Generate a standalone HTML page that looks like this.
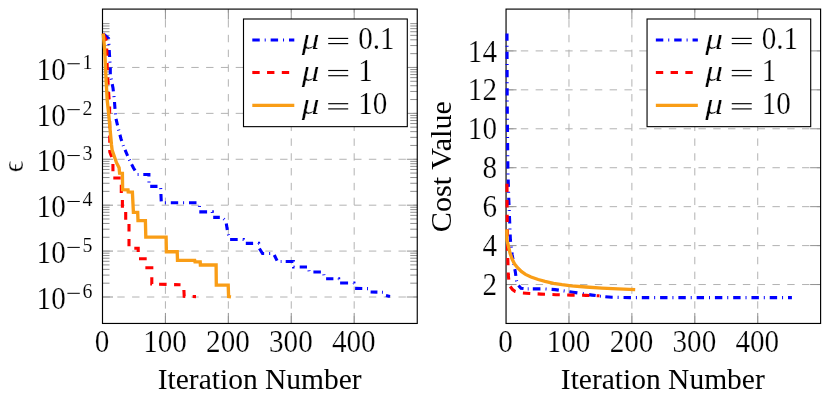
<!DOCTYPE html>
<html><head><meta charset="utf-8"><title>plot</title><style>html,body{margin:0;padding:0;background:#fff;width:830px;height:393px;overflow:hidden}</style></head><body>
<svg width="830" height="393" viewBox="0 0 830 393" style="position:absolute;left:0;top:0;will-change:transform;opacity:0.999" font-family="Liberation Serif, serif" fill="#000">
<defs><clipPath id="c1"><rect x="100.9" y="9.1" width="316.35" height="314.34999999999997"/></clipPath><clipPath id="c2"><rect x="504.45" y="9.1" width="316.15000000000003" height="314.34999999999997"/></clipPath></defs>
<rect width="830" height="393" fill="#fff"/>
<line x1="165.42" y1="323.45" x2="165.42" y2="9.10" stroke="#b0b0b0" stroke-width="0.98" stroke-dasharray="7.4 7.4"/>
<line x1="228.34" y1="323.45" x2="228.34" y2="9.10" stroke="#b0b0b0" stroke-width="0.98" stroke-dasharray="7.4 7.4"/>
<line x1="291.26" y1="323.45" x2="291.26" y2="9.10" stroke="#b0b0b0" stroke-width="0.98" stroke-dasharray="7.4 7.4"/>
<line x1="354.18" y1="323.45" x2="354.18" y2="9.10" stroke="#b0b0b0" stroke-width="0.98" stroke-dasharray="7.4 7.4"/>
<line x1="102.50" y1="67.45" x2="417.25" y2="67.45" stroke="#b0b0b0" stroke-width="0.98" stroke-dasharray="7.4 7.4"/>
<line x1="102.50" y1="113.36" x2="417.25" y2="113.36" stroke="#b0b0b0" stroke-width="0.98" stroke-dasharray="7.4 7.4"/>
<line x1="102.50" y1="159.27" x2="417.25" y2="159.27" stroke="#b0b0b0" stroke-width="0.98" stroke-dasharray="7.4 7.4"/>
<line x1="102.50" y1="205.18" x2="417.25" y2="205.18" stroke="#b0b0b0" stroke-width="0.98" stroke-dasharray="7.4 7.4"/>
<line x1="102.50" y1="251.09" x2="417.25" y2="251.09" stroke="#b0b0b0" stroke-width="0.98" stroke-dasharray="7.4 7.4"/>
<line x1="102.50" y1="297.00" x2="417.25" y2="297.00" stroke="#b0b0b0" stroke-width="0.98" stroke-dasharray="7.4 7.4"/>
<line x1="165.42" y1="323.45" x2="165.42" y2="312.95" stroke="#8e8e8e" stroke-width="0.98" />
<line x1="165.42" y1="9.10" x2="165.42" y2="19.60" stroke="#8e8e8e" stroke-width="0.98" />
<line x1="228.34" y1="323.45" x2="228.34" y2="312.95" stroke="#8e8e8e" stroke-width="0.98" />
<line x1="228.34" y1="9.10" x2="228.34" y2="19.60" stroke="#8e8e8e" stroke-width="0.98" />
<line x1="291.26" y1="323.45" x2="291.26" y2="312.95" stroke="#8e8e8e" stroke-width="0.98" />
<line x1="291.26" y1="9.10" x2="291.26" y2="19.60" stroke="#8e8e8e" stroke-width="0.98" />
<line x1="354.18" y1="323.45" x2="354.18" y2="312.95" stroke="#8e8e8e" stroke-width="0.98" />
<line x1="354.18" y1="9.10" x2="354.18" y2="19.60" stroke="#8e8e8e" stroke-width="0.98" />
<line x1="102.50" y1="67.45" x2="113.00" y2="67.45" stroke="#8e8e8e" stroke-width="0.98" />
<line x1="417.25" y1="67.45" x2="406.75" y2="67.45" stroke="#8e8e8e" stroke-width="0.98" />
<line x1="102.50" y1="113.36" x2="113.00" y2="113.36" stroke="#8e8e8e" stroke-width="0.98" />
<line x1="417.25" y1="113.36" x2="406.75" y2="113.36" stroke="#8e8e8e" stroke-width="0.98" />
<line x1="102.50" y1="159.27" x2="113.00" y2="159.27" stroke="#8e8e8e" stroke-width="0.98" />
<line x1="417.25" y1="159.27" x2="406.75" y2="159.27" stroke="#8e8e8e" stroke-width="0.98" />
<line x1="102.50" y1="205.18" x2="113.00" y2="205.18" stroke="#8e8e8e" stroke-width="0.98" />
<line x1="417.25" y1="205.18" x2="406.75" y2="205.18" stroke="#8e8e8e" stroke-width="0.98" />
<line x1="102.50" y1="251.09" x2="113.00" y2="251.09" stroke="#8e8e8e" stroke-width="0.98" />
<line x1="417.25" y1="251.09" x2="406.75" y2="251.09" stroke="#8e8e8e" stroke-width="0.98" />
<line x1="102.50" y1="297.00" x2="113.00" y2="297.00" stroke="#8e8e8e" stroke-width="0.98" />
<line x1="417.25" y1="297.00" x2="406.75" y2="297.00" stroke="#8e8e8e" stroke-width="0.98" />
<line x1="102.50" y1="53.63" x2="109.50" y2="53.63" stroke="#8e8e8e" stroke-width="0.98" />
<line x1="417.25" y1="53.63" x2="410.25" y2="53.63" stroke="#8e8e8e" stroke-width="0.98" />
<line x1="102.50" y1="45.55" x2="109.50" y2="45.55" stroke="#8e8e8e" stroke-width="0.98" />
<line x1="417.25" y1="45.55" x2="410.25" y2="45.55" stroke="#8e8e8e" stroke-width="0.98" />
<line x1="102.50" y1="39.81" x2="109.50" y2="39.81" stroke="#8e8e8e" stroke-width="0.98" />
<line x1="417.25" y1="39.81" x2="410.25" y2="39.81" stroke="#8e8e8e" stroke-width="0.98" />
<line x1="102.50" y1="35.36" x2="109.50" y2="35.36" stroke="#8e8e8e" stroke-width="0.98" />
<line x1="417.25" y1="35.36" x2="410.25" y2="35.36" stroke="#8e8e8e" stroke-width="0.98" />
<line x1="102.50" y1="31.73" x2="109.50" y2="31.73" stroke="#8e8e8e" stroke-width="0.98" />
<line x1="417.25" y1="31.73" x2="410.25" y2="31.73" stroke="#8e8e8e" stroke-width="0.98" />
<line x1="102.50" y1="28.65" x2="109.50" y2="28.65" stroke="#8e8e8e" stroke-width="0.98" />
<line x1="417.25" y1="28.65" x2="410.25" y2="28.65" stroke="#8e8e8e" stroke-width="0.98" />
<line x1="102.50" y1="25.99" x2="109.50" y2="25.99" stroke="#8e8e8e" stroke-width="0.98" />
<line x1="417.25" y1="25.99" x2="410.25" y2="25.99" stroke="#8e8e8e" stroke-width="0.98" />
<line x1="102.50" y1="23.64" x2="109.50" y2="23.64" stroke="#8e8e8e" stroke-width="0.98" />
<line x1="417.25" y1="23.64" x2="410.25" y2="23.64" stroke="#8e8e8e" stroke-width="0.98" />
<line x1="102.50" y1="99.54" x2="109.50" y2="99.54" stroke="#8e8e8e" stroke-width="0.98" />
<line x1="417.25" y1="99.54" x2="410.25" y2="99.54" stroke="#8e8e8e" stroke-width="0.98" />
<line x1="102.50" y1="91.46" x2="109.50" y2="91.46" stroke="#8e8e8e" stroke-width="0.98" />
<line x1="417.25" y1="91.46" x2="410.25" y2="91.46" stroke="#8e8e8e" stroke-width="0.98" />
<line x1="102.50" y1="85.72" x2="109.50" y2="85.72" stroke="#8e8e8e" stroke-width="0.98" />
<line x1="417.25" y1="85.72" x2="410.25" y2="85.72" stroke="#8e8e8e" stroke-width="0.98" />
<line x1="102.50" y1="81.27" x2="109.50" y2="81.27" stroke="#8e8e8e" stroke-width="0.98" />
<line x1="417.25" y1="81.27" x2="410.25" y2="81.27" stroke="#8e8e8e" stroke-width="0.98" />
<line x1="102.50" y1="77.64" x2="109.50" y2="77.64" stroke="#8e8e8e" stroke-width="0.98" />
<line x1="417.25" y1="77.64" x2="410.25" y2="77.64" stroke="#8e8e8e" stroke-width="0.98" />
<line x1="102.50" y1="74.56" x2="109.50" y2="74.56" stroke="#8e8e8e" stroke-width="0.98" />
<line x1="417.25" y1="74.56" x2="410.25" y2="74.56" stroke="#8e8e8e" stroke-width="0.98" />
<line x1="102.50" y1="71.90" x2="109.50" y2="71.90" stroke="#8e8e8e" stroke-width="0.98" />
<line x1="417.25" y1="71.90" x2="410.25" y2="71.90" stroke="#8e8e8e" stroke-width="0.98" />
<line x1="102.50" y1="69.55" x2="109.50" y2="69.55" stroke="#8e8e8e" stroke-width="0.98" />
<line x1="417.25" y1="69.55" x2="410.25" y2="69.55" stroke="#8e8e8e" stroke-width="0.98" />
<line x1="102.50" y1="145.45" x2="109.50" y2="145.45" stroke="#8e8e8e" stroke-width="0.98" />
<line x1="417.25" y1="145.45" x2="410.25" y2="145.45" stroke="#8e8e8e" stroke-width="0.98" />
<line x1="102.50" y1="137.37" x2="109.50" y2="137.37" stroke="#8e8e8e" stroke-width="0.98" />
<line x1="417.25" y1="137.37" x2="410.25" y2="137.37" stroke="#8e8e8e" stroke-width="0.98" />
<line x1="102.50" y1="131.63" x2="109.50" y2="131.63" stroke="#8e8e8e" stroke-width="0.98" />
<line x1="417.25" y1="131.63" x2="410.25" y2="131.63" stroke="#8e8e8e" stroke-width="0.98" />
<line x1="102.50" y1="127.18" x2="109.50" y2="127.18" stroke="#8e8e8e" stroke-width="0.98" />
<line x1="417.25" y1="127.18" x2="410.25" y2="127.18" stroke="#8e8e8e" stroke-width="0.98" />
<line x1="102.50" y1="123.55" x2="109.50" y2="123.55" stroke="#8e8e8e" stroke-width="0.98" />
<line x1="417.25" y1="123.55" x2="410.25" y2="123.55" stroke="#8e8e8e" stroke-width="0.98" />
<line x1="102.50" y1="120.47" x2="109.50" y2="120.47" stroke="#8e8e8e" stroke-width="0.98" />
<line x1="417.25" y1="120.47" x2="410.25" y2="120.47" stroke="#8e8e8e" stroke-width="0.98" />
<line x1="102.50" y1="117.81" x2="109.50" y2="117.81" stroke="#8e8e8e" stroke-width="0.98" />
<line x1="417.25" y1="117.81" x2="410.25" y2="117.81" stroke="#8e8e8e" stroke-width="0.98" />
<line x1="102.50" y1="115.46" x2="109.50" y2="115.46" stroke="#8e8e8e" stroke-width="0.98" />
<line x1="417.25" y1="115.46" x2="410.25" y2="115.46" stroke="#8e8e8e" stroke-width="0.98" />
<line x1="102.50" y1="191.36" x2="109.50" y2="191.36" stroke="#8e8e8e" stroke-width="0.98" />
<line x1="417.25" y1="191.36" x2="410.25" y2="191.36" stroke="#8e8e8e" stroke-width="0.98" />
<line x1="102.50" y1="183.28" x2="109.50" y2="183.28" stroke="#8e8e8e" stroke-width="0.98" />
<line x1="417.25" y1="183.28" x2="410.25" y2="183.28" stroke="#8e8e8e" stroke-width="0.98" />
<line x1="102.50" y1="177.54" x2="109.50" y2="177.54" stroke="#8e8e8e" stroke-width="0.98" />
<line x1="417.25" y1="177.54" x2="410.25" y2="177.54" stroke="#8e8e8e" stroke-width="0.98" />
<line x1="102.50" y1="173.09" x2="109.50" y2="173.09" stroke="#8e8e8e" stroke-width="0.98" />
<line x1="417.25" y1="173.09" x2="410.25" y2="173.09" stroke="#8e8e8e" stroke-width="0.98" />
<line x1="102.50" y1="169.46" x2="109.50" y2="169.46" stroke="#8e8e8e" stroke-width="0.98" />
<line x1="417.25" y1="169.46" x2="410.25" y2="169.46" stroke="#8e8e8e" stroke-width="0.98" />
<line x1="102.50" y1="166.38" x2="109.50" y2="166.38" stroke="#8e8e8e" stroke-width="0.98" />
<line x1="417.25" y1="166.38" x2="410.25" y2="166.38" stroke="#8e8e8e" stroke-width="0.98" />
<line x1="102.50" y1="163.72" x2="109.50" y2="163.72" stroke="#8e8e8e" stroke-width="0.98" />
<line x1="417.25" y1="163.72" x2="410.25" y2="163.72" stroke="#8e8e8e" stroke-width="0.98" />
<line x1="102.50" y1="161.37" x2="109.50" y2="161.37" stroke="#8e8e8e" stroke-width="0.98" />
<line x1="417.25" y1="161.37" x2="410.25" y2="161.37" stroke="#8e8e8e" stroke-width="0.98" />
<line x1="102.50" y1="237.27" x2="109.50" y2="237.27" stroke="#8e8e8e" stroke-width="0.98" />
<line x1="417.25" y1="237.27" x2="410.25" y2="237.27" stroke="#8e8e8e" stroke-width="0.98" />
<line x1="102.50" y1="229.19" x2="109.50" y2="229.19" stroke="#8e8e8e" stroke-width="0.98" />
<line x1="417.25" y1="229.19" x2="410.25" y2="229.19" stroke="#8e8e8e" stroke-width="0.98" />
<line x1="102.50" y1="223.45" x2="109.50" y2="223.45" stroke="#8e8e8e" stroke-width="0.98" />
<line x1="417.25" y1="223.45" x2="410.25" y2="223.45" stroke="#8e8e8e" stroke-width="0.98" />
<line x1="102.50" y1="219.00" x2="109.50" y2="219.00" stroke="#8e8e8e" stroke-width="0.98" />
<line x1="417.25" y1="219.00" x2="410.25" y2="219.00" stroke="#8e8e8e" stroke-width="0.98" />
<line x1="102.50" y1="215.37" x2="109.50" y2="215.37" stroke="#8e8e8e" stroke-width="0.98" />
<line x1="417.25" y1="215.37" x2="410.25" y2="215.37" stroke="#8e8e8e" stroke-width="0.98" />
<line x1="102.50" y1="212.29" x2="109.50" y2="212.29" stroke="#8e8e8e" stroke-width="0.98" />
<line x1="417.25" y1="212.29" x2="410.25" y2="212.29" stroke="#8e8e8e" stroke-width="0.98" />
<line x1="102.50" y1="209.63" x2="109.50" y2="209.63" stroke="#8e8e8e" stroke-width="0.98" />
<line x1="417.25" y1="209.63" x2="410.25" y2="209.63" stroke="#8e8e8e" stroke-width="0.98" />
<line x1="102.50" y1="207.28" x2="109.50" y2="207.28" stroke="#8e8e8e" stroke-width="0.98" />
<line x1="417.25" y1="207.28" x2="410.25" y2="207.28" stroke="#8e8e8e" stroke-width="0.98" />
<line x1="102.50" y1="283.18" x2="109.50" y2="283.18" stroke="#8e8e8e" stroke-width="0.98" />
<line x1="417.25" y1="283.18" x2="410.25" y2="283.18" stroke="#8e8e8e" stroke-width="0.98" />
<line x1="102.50" y1="275.10" x2="109.50" y2="275.10" stroke="#8e8e8e" stroke-width="0.98" />
<line x1="417.25" y1="275.10" x2="410.25" y2="275.10" stroke="#8e8e8e" stroke-width="0.98" />
<line x1="102.50" y1="269.36" x2="109.50" y2="269.36" stroke="#8e8e8e" stroke-width="0.98" />
<line x1="417.25" y1="269.36" x2="410.25" y2="269.36" stroke="#8e8e8e" stroke-width="0.98" />
<line x1="102.50" y1="264.91" x2="109.50" y2="264.91" stroke="#8e8e8e" stroke-width="0.98" />
<line x1="417.25" y1="264.91" x2="410.25" y2="264.91" stroke="#8e8e8e" stroke-width="0.98" />
<line x1="102.50" y1="261.28" x2="109.50" y2="261.28" stroke="#8e8e8e" stroke-width="0.98" />
<line x1="417.25" y1="261.28" x2="410.25" y2="261.28" stroke="#8e8e8e" stroke-width="0.98" />
<line x1="102.50" y1="258.20" x2="109.50" y2="258.20" stroke="#8e8e8e" stroke-width="0.98" />
<line x1="417.25" y1="258.20" x2="410.25" y2="258.20" stroke="#8e8e8e" stroke-width="0.98" />
<line x1="102.50" y1="255.54" x2="109.50" y2="255.54" stroke="#8e8e8e" stroke-width="0.98" />
<line x1="417.25" y1="255.54" x2="410.25" y2="255.54" stroke="#8e8e8e" stroke-width="0.98" />
<line x1="102.50" y1="253.19" x2="109.50" y2="253.19" stroke="#8e8e8e" stroke-width="0.98" />
<line x1="417.25" y1="253.19" x2="410.25" y2="253.19" stroke="#8e8e8e" stroke-width="0.98" />
<line x1="568.97" y1="323.45" x2="568.97" y2="9.10" stroke="#b0b0b0" stroke-width="0.98" stroke-dasharray="7.4 7.4"/>
<line x1="631.89" y1="323.45" x2="631.89" y2="9.10" stroke="#b0b0b0" stroke-width="0.98" stroke-dasharray="7.4 7.4"/>
<line x1="694.81" y1="323.45" x2="694.81" y2="9.10" stroke="#b0b0b0" stroke-width="0.98" stroke-dasharray="7.4 7.4"/>
<line x1="757.73" y1="323.45" x2="757.73" y2="9.10" stroke="#b0b0b0" stroke-width="0.98" stroke-dasharray="7.4 7.4"/>
<line x1="506.05" y1="50.90" x2="820.60" y2="50.90" stroke="#b0b0b0" stroke-width="0.98" stroke-dasharray="7.4 7.4"/>
<line x1="506.05" y1="89.84" x2="820.60" y2="89.84" stroke="#b0b0b0" stroke-width="0.98" stroke-dasharray="7.4 7.4"/>
<line x1="506.05" y1="128.78" x2="820.60" y2="128.78" stroke="#b0b0b0" stroke-width="0.98" stroke-dasharray="7.4 7.4"/>
<line x1="506.05" y1="167.72" x2="820.60" y2="167.72" stroke="#b0b0b0" stroke-width="0.98" stroke-dasharray="7.4 7.4"/>
<line x1="506.05" y1="206.66" x2="820.60" y2="206.66" stroke="#b0b0b0" stroke-width="0.98" stroke-dasharray="7.4 7.4"/>
<line x1="506.05" y1="245.60" x2="820.60" y2="245.60" stroke="#b0b0b0" stroke-width="0.98" stroke-dasharray="7.4 7.4"/>
<line x1="506.05" y1="284.54" x2="820.60" y2="284.54" stroke="#b0b0b0" stroke-width="0.98" stroke-dasharray="7.4 7.4"/>
<line x1="568.97" y1="323.45" x2="568.97" y2="312.95" stroke="#8e8e8e" stroke-width="0.98" />
<line x1="568.97" y1="9.10" x2="568.97" y2="19.60" stroke="#8e8e8e" stroke-width="0.98" />
<line x1="631.89" y1="323.45" x2="631.89" y2="312.95" stroke="#8e8e8e" stroke-width="0.98" />
<line x1="631.89" y1="9.10" x2="631.89" y2="19.60" stroke="#8e8e8e" stroke-width="0.98" />
<line x1="694.81" y1="323.45" x2="694.81" y2="312.95" stroke="#8e8e8e" stroke-width="0.98" />
<line x1="694.81" y1="9.10" x2="694.81" y2="19.60" stroke="#8e8e8e" stroke-width="0.98" />
<line x1="757.73" y1="323.45" x2="757.73" y2="312.95" stroke="#8e8e8e" stroke-width="0.98" />
<line x1="757.73" y1="9.10" x2="757.73" y2="19.60" stroke="#8e8e8e" stroke-width="0.98" />
<line x1="506.05" y1="50.90" x2="516.55" y2="50.90" stroke="#8e8e8e" stroke-width="0.98" />
<line x1="820.60" y1="50.90" x2="810.10" y2="50.90" stroke="#8e8e8e" stroke-width="0.98" />
<line x1="506.05" y1="89.84" x2="516.55" y2="89.84" stroke="#8e8e8e" stroke-width="0.98" />
<line x1="820.60" y1="89.84" x2="810.10" y2="89.84" stroke="#8e8e8e" stroke-width="0.98" />
<line x1="506.05" y1="128.78" x2="516.55" y2="128.78" stroke="#8e8e8e" stroke-width="0.98" />
<line x1="820.60" y1="128.78" x2="810.10" y2="128.78" stroke="#8e8e8e" stroke-width="0.98" />
<line x1="506.05" y1="167.72" x2="516.55" y2="167.72" stroke="#8e8e8e" stroke-width="0.98" />
<line x1="820.60" y1="167.72" x2="810.10" y2="167.72" stroke="#8e8e8e" stroke-width="0.98" />
<line x1="506.05" y1="206.66" x2="516.55" y2="206.66" stroke="#8e8e8e" stroke-width="0.98" />
<line x1="820.60" y1="206.66" x2="810.10" y2="206.66" stroke="#8e8e8e" stroke-width="0.98" />
<line x1="506.05" y1="245.60" x2="516.55" y2="245.60" stroke="#8e8e8e" stroke-width="0.98" />
<line x1="820.60" y1="245.60" x2="810.10" y2="245.60" stroke="#8e8e8e" stroke-width="0.98" />
<line x1="506.05" y1="284.54" x2="516.55" y2="284.54" stroke="#8e8e8e" stroke-width="0.98" />
<line x1="820.60" y1="284.54" x2="810.10" y2="284.54" stroke="#8e8e8e" stroke-width="0.98" />
<rect x="102.5" y="9.1" width="314.75" height="314.35" fill="none" stroke="#000" stroke-width="1.15"/>
<rect x="506.05" y="9.1" width="314.55" height="314.35" fill="none" stroke="#000" stroke-width="1.15"/>
<g fill="none" stroke="#0000ff" stroke-width="3.1" stroke-linejoin="miter" clip-path="url(#c1)">
<path d="M103.10,33.70 L108.60,38.50 L109.23,50.01" stroke-dasharray="7.633 5.089 1.016 5.089"/>
<path d="M109.23,50.01 L109.50,55.00 L110.29,67.30" stroke-dasharray="7.024 4.683 0.935 4.683"/>
<path d="M110.29,67.30 L110.30,67.50 L110.30,75.00 L111.40,80.00 L112.22,84.08" stroke-dasharray="6.883 4.589 0.916 4.589"/>
<path d="M112.22,84.08 L113.00,88.00 L114.00,96.60 L114.50,102.00" stroke-dasharray="7.331 4.888 0.976 4.888"/>
<path d="M114.50,102.00 L115.00,109.00 L115.80,118.00 L116.02,118.91" stroke-dasharray="6.887 4.591 0.916 4.591"/>
<path d="M116.02,118.91 L117.70,126.00 L118.70,130.00 L119.93,134.76" stroke-dasharray="6.621 4.414 0.881 4.414"/>
<path d="M119.93,134.76 L120.90,138.50 L123.60,146.50 L125.08,149.96" stroke-dasharray="6.518 4.345 0.867 4.345"/>
<path d="M125.08,149.96 L126.60,153.50 L130.00,161.00 L131.66,164.32" stroke-dasharray="6.404 4.269 0.852 4.269"/>
<path d="M131.66,164.32 L133.50,168.00 L137.50,174.50 L143.30,174.50" stroke-dasharray="7.114 4.743 0.947 4.743"/>
<path d="M143.30,174.50 L148.90,174.50 L149.00,186.40 L150.20,186.40" stroke-dasharray="7.582 5.055 1.009 5.055"/>
<path d="M150.20,186.40 L160.60,186.40 L160.93,194.02" stroke-dasharray="7.307 4.872 0.972 4.872"/>
<path d="M160.93,194.02 L161.30,202.80 L170.80,202.80" stroke-dasharray="7.416 4.944 0.987 4.944"/>
<path d="M170.80,202.80 L189.00,202.80" stroke-dasharray="7.379 4.919 0.982 4.919"/>
<path d="M189.00,202.80 L198.00,202.80 L199.50,205.50 L199.30,211.90" stroke-dasharray="7.497 4.998 0.998 4.998"/>
<path d="M199.30,211.90 L212.30,211.90 L212.50,217.40 L213.20,217.40" stroke-dasharray="7.786 5.191 1.036 5.191"/>
<path d="M213.20,217.40 L222.00,217.40 L224.40,219.50 L226.30,223.40" stroke-dasharray="6.620 4.413 0.881 4.413"/>
<path d="M226.30,223.40 L227.50,231.40 L228.50,235.00 L230.10,239.50" stroke-dasharray="6.731 4.487 0.896 4.487"/>
<path d="M230.10,239.50 L243.50,239.50 L244.50,243.40 L245.80,243.40" stroke-dasharray="7.593 5.062 1.010 5.062"/>
<path d="M245.80,243.40 L258.70,243.40 L259.40,248.50" stroke-dasharray="7.317 4.878 0.974 4.878"/>
<path d="M259.40,248.50 L262.50,253.50 L273.50,253.50 L274.26,255.02" stroke-dasharray="7.534 5.023 1.003 5.023"/>
<path d="M274.26,255.02 L277.50,261.50 L285.70,261.50" stroke-dasharray="6.262 4.175 0.833 4.175"/>
<path d="M285.70,261.50 L293.40,261.50 L293.60,267.00 L299.70,267.00" stroke-dasharray="7.827 5.218 1.041 5.218"/>
<path d="M299.70,267.00 L308.50,267.00 L309.20,272.00 L313.40,272.00" stroke-dasharray="7.318 4.879 0.974 4.879"/>
<path d="M313.40,272.00 L323.50,272.00 L324.50,278.70 L326.10,278.70" stroke-dasharray="7.490 4.994 0.997 4.994"/>
<path d="M326.10,278.70 L338.70,278.70 L339.00,283.00 L340.10,283.00" stroke-dasharray="7.302 4.868 0.972 4.868"/>
<path d="M340.10,283.00 L354.00,283.00 L354.80,288.40 L355.10,288.40" stroke-dasharray="7.971 5.314 1.061 5.314"/>
<path d="M355.10,288.40 L368.50,288.60 L370.00,292.00 L370.60,292.01" stroke-dasharray="7.184 4.789 0.956 4.789"/>
<path d="M370.60,292.01 L383.00,292.30 L385.50,295.30 L385.99,295.43" stroke-dasharray="6.819 4.546 0.907 4.546"/>
<path d="M385.99,295.43 L390.00,296.50" stroke-dasharray="7.440 4.960 0.990 4.960"/>
</g>
<g fill="none" stroke="#ff0000" stroke-width="3.1" stroke-linejoin="miter" clip-path="url(#c1)">
<path d="M103.10,33.70 L106.50,41.00 L106.71,48.50" stroke-dasharray="7.779 7.779"/>
<path d="M106.71,48.50 L106.90,55.00 L107.20,67.00 L107.90,80.00 L108.80,95.00 L109.60,105.00 L109.80,152.00 L112.90,160.00 L112.92,164.00" stroke-dasharray="7.260 7.260"/>
<path d="M112.92,164.00 L113.00,178.00 L113.30,178.00" stroke-dasharray="7.150 7.150"/>
<path d="M113.30,178.00 L121.30,178.00 L121.30,184.80" stroke-dasharray="7.400 7.400"/>
<path d="M121.30,184.80 L121.30,195.00 L122.40,195.00 L122.40,200.00" stroke-dasharray="8.150 8.150"/>
<path d="M122.40,200.00 L122.40,209.30 L125.70,209.30 L125.70,212.00" stroke-dasharray="7.650 7.650"/>
<path d="M125.70,212.00 L125.70,221.30 L129.00,221.30 L129.00,224.00" stroke-dasharray="7.650 7.650"/>
<path d="M129.00,224.00 L129.00,239.00" stroke-dasharray="7.500 7.500"/>
<path d="M129.00,239.00 L129.00,248.20 L134.30,248.20" stroke-dasharray="7.250 7.250"/>
<path d="M134.30,248.20 L138.20,248.20 L138.20,258.70 L139.00,258.70" stroke-dasharray="7.600 7.600"/>
<path d="M139.00,258.70 L146.90,258.70 L146.90,266.20" stroke-dasharray="7.700 7.700"/>
<path d="M146.90,266.20 L146.90,267.70 L151.80,267.70 L151.80,277.30" stroke-dasharray="8.000 8.000"/>
<path d="M151.80,277.30 L151.80,284.00 L159.10,284.20" stroke-dasharray="7.001 7.001"/>
<path d="M159.10,284.20 L174.10,284.61" stroke-dasharray="7.503 7.503"/>
<path d="M174.10,284.61 L181.00,284.80 L183.90,290.00 L183.90,290.00" stroke-dasharray="6.431 6.431"/>
<path d="M183.90,290.00 L184.20,296.30 L196.00,296.60" stroke-dasharray="7.375 7.375"/>
</g>
<path d="M103.20,33.50 L104.70,50.00 L106.10,80.00 L107.20,100.00 L108.50,112.00 L111.50,145.00 L112.10,150.00 L116.50,162.70 L119.10,167.80 L119.60,173.20 L122.40,173.30 L122.60,189.60 L128.00,189.80 L128.20,191.90 L132.40,192.10 L133.40,212.40 L137.70,212.40 L138.00,220.60 L145.40,220.60 L145.80,237.10 L166.10,237.10 L166.40,251.70 L177.20,251.70 L177.50,260.40 L194.70,260.40 L195.00,261.80 L200.20,261.80 L200.40,265.00 L216.10,265.00 L216.30,285.10 L228.20,285.10 L228.60,296.50 L231.00,296.80" fill="none" stroke="#f99d16" stroke-width="3.35" stroke-linejoin="miter" clip-path="url(#c1)"/>
<g fill="none" stroke="#0000ff" stroke-width="3.1" stroke-linejoin="miter" clip-path="url(#c2)">
<path d="M507.00,33.40 L507.20,100.00 L507.90,170.00 L508.80,200.00 L509.44,215.97" stroke-dasharray="7.404 4.936 0.985 4.936"/>
<path d="M509.44,215.97 L510.18,234.50" stroke-dasharray="7.518 5.012 1.000 5.012"/>
<path d="M510.18,234.50 L510.40,240.00 L511.90,252.51" stroke-dasharray="7.341 4.894 0.977 4.894"/>
<path d="M511.90,252.51 L512.20,255.00 L515.30,271.80 L516.50,280.50 L518.50,285.50" stroke-dasharray="6.843 4.562 0.911 4.562"/>
<path d="M518.50,285.50 L521.00,288.30 L527.00,288.90 L532.80,288.90" stroke-dasharray="6.318 4.212 0.841 4.212"/>
<path d="M532.80,288.90 L545.00,288.90 L551.60,289.36" stroke-dasharray="7.630 5.087 1.015 5.087"/>
<path d="M551.60,289.36 L555.00,289.60 L569.40,291.68" stroke-dasharray="7.281 4.854 0.969 4.854"/>
<path d="M569.40,291.68 L573.00,292.20 L583.00,293.70 L589.11,294.65" stroke-dasharray="8.080 5.386 1.075 5.386"/>
<path d="M589.11,294.65 L592.00,295.10 L601.00,296.30 L605.30,296.69" stroke-dasharray="6.619 4.413 0.881 4.413"/>
<path d="M605.30,296.69 L612.00,297.30 L630.00,297.60 L788.00,297.60" stroke-dasharray="7.409 4.939 0.986 4.939"/>
<path d="M788.00,297.60 L791.90,297.60" stroke-dasharray="7.440 4.960 0.990 4.960"/>
</g>
<g fill="none" stroke="#ff0000" stroke-width="3.1" stroke-linejoin="miter" clip-path="url(#c2)">
<path d="M507.00,183.70 L507.09,200.10" stroke-dasharray="8.200 8.200"/>
<path d="M507.09,200.10 L507.17,214.70" stroke-dasharray="7.300 7.300"/>
<path d="M507.17,214.70 L507.20,220.00 L507.60,252.00 L508.22,272.50" stroke-dasharray="7.227 7.227"/>
<path d="M508.22,272.50 L508.30,275.00 L509.00,282.00 L510.20,286.50" stroke-dasharray="7.096 7.096"/>
<path d="M510.20,286.50 L512.50,289.50 L515.30,291.50 L520.00,292.80 L522.91,292.99" stroke-dasharray="7.506 7.506"/>
<path d="M522.91,292.99 L526.00,293.20 L537.60,293.90" stroke-dasharray="7.360 7.360"/>
<path d="M537.60,293.90 L541.00,294.10 L552.40,294.56" stroke-dasharray="7.408 7.408"/>
<path d="M552.40,294.56 L556.00,294.70 L567.20,295.00" stroke-dasharray="7.403 7.403"/>
<path d="M567.20,295.00 L571.00,295.10 L582.10,295.32" stroke-dasharray="7.452 7.452"/>
<path d="M582.10,295.32 L586.00,295.40 L596.70,295.72" stroke-dasharray="7.303 7.303"/>
<path d="M596.70,295.72 L599.50,295.80" stroke-dasharray="7.375 7.375"/>
</g>
<path d="M506.80,229.40 L507.00,240.00 L508.30,245.70 L510.00,253.00 L512.10,259.10 L514.60,264.00 L517.80,268.00 L521.30,271.50 L525.50,274.40 L531.00,277.00 L538.20,279.50 L545.00,281.30 L553.50,283.30 L562.00,284.70 L571.30,285.80 L586.00,287.00 L601.80,288.10 L618.00,288.90 L635.20,289.60" fill="none" stroke="#f99d16" stroke-width="3.35" stroke-linejoin="miter" clip-path="url(#c2)"/>
<rect x="243.5" y="19.0" width="163.80" height="107.65" fill="#fff" stroke="#000" stroke-width="1.12"/>
<line x1="252.30" y1="40.00" x2="294.30" y2="40.00" stroke="#0000ff" stroke-width="3.1" stroke-dasharray="7.44 4.96 0.99 4.96"/>
<text transform="translate(301.80,49.10) scale(1.2,1)" font-size="29.5" text-anchor="start" stroke="#fff" stroke-width="0.22" font-style="italic">μ</text>
<line x1="328.20" y1="38.40" x2="348.20" y2="38.40" stroke="#000" stroke-width="1.15" />
<line x1="328.20" y1="43.60" x2="348.20" y2="43.60" stroke="#000" stroke-width="1.15" />
<text transform="translate(358.20,49.10) scale(0.94,1)" font-size="31.0" text-anchor="start" stroke="#fff" stroke-width="0.22">0.1</text>
<line x1="252.30" y1="72.50" x2="294.30" y2="72.50" stroke="#ff0000" stroke-width="3.1" stroke-dasharray="7.375 7.375"/>
<text transform="translate(301.80,81.20) scale(1.2,1)" font-size="29.5" text-anchor="start" stroke="#fff" stroke-width="0.22" font-style="italic">μ</text>
<line x1="328.20" y1="70.50" x2="348.20" y2="70.50" stroke="#000" stroke-width="1.15" />
<line x1="328.20" y1="75.70" x2="348.20" y2="75.70" stroke="#000" stroke-width="1.15" />
<text transform="translate(358.20,81.20) scale(0.94,1)" font-size="31.0" text-anchor="start" stroke="#fff" stroke-width="0.22">1</text>
<line x1="252.30" y1="105.40" x2="294.30" y2="105.40" stroke="#f99d16" stroke-width="3.2" />
<text transform="translate(301.80,114.40) scale(1.2,1)" font-size="29.5" text-anchor="start" stroke="#fff" stroke-width="0.22" font-style="italic">μ</text>
<line x1="328.20" y1="103.70" x2="348.20" y2="103.70" stroke="#000" stroke-width="1.15" />
<line x1="328.20" y1="108.90" x2="348.20" y2="108.90" stroke="#000" stroke-width="1.15" />
<text transform="translate(358.20,114.40) scale(0.94,1)" font-size="31.0" text-anchor="start" stroke="#fff" stroke-width="0.22">10</text>
<rect x="647.05" y="19.0" width="163.65" height="107.65" fill="#fff" stroke="#000" stroke-width="1.12"/>
<line x1="655.85" y1="40.00" x2="697.85" y2="40.00" stroke="#0000ff" stroke-width="3.1" stroke-dasharray="7.44 4.96 0.99 4.96"/>
<text transform="translate(705.35,49.10) scale(1.2,1)" font-size="29.5" text-anchor="start" stroke="#fff" stroke-width="0.22" font-style="italic">μ</text>
<line x1="731.75" y1="38.40" x2="751.75" y2="38.40" stroke="#000" stroke-width="1.15" />
<line x1="731.75" y1="43.60" x2="751.75" y2="43.60" stroke="#000" stroke-width="1.15" />
<text transform="translate(761.75,49.10) scale(0.94,1)" font-size="31.0" text-anchor="start" stroke="#fff" stroke-width="0.22">0.1</text>
<line x1="655.85" y1="72.50" x2="697.85" y2="72.50" stroke="#ff0000" stroke-width="3.1" stroke-dasharray="7.375 7.375"/>
<text transform="translate(705.35,81.20) scale(1.2,1)" font-size="29.5" text-anchor="start" stroke="#fff" stroke-width="0.22" font-style="italic">μ</text>
<line x1="731.75" y1="70.50" x2="751.75" y2="70.50" stroke="#000" stroke-width="1.15" />
<line x1="731.75" y1="75.70" x2="751.75" y2="75.70" stroke="#000" stroke-width="1.15" />
<text transform="translate(761.75,81.20) scale(0.94,1)" font-size="31.0" text-anchor="start" stroke="#fff" stroke-width="0.22">1</text>
<line x1="655.85" y1="105.40" x2="697.85" y2="105.40" stroke="#f99d16" stroke-width="3.2" />
<text transform="translate(705.35,114.40) scale(1.2,1)" font-size="29.5" text-anchor="start" stroke="#fff" stroke-width="0.22" font-style="italic">μ</text>
<line x1="731.75" y1="103.70" x2="751.75" y2="103.70" stroke="#000" stroke-width="1.15" />
<line x1="731.75" y1="108.90" x2="751.75" y2="108.90" stroke="#000" stroke-width="1.15" />
<text transform="translate(761.75,114.40) scale(0.94,1)" font-size="31.0" text-anchor="start" stroke="#fff" stroke-width="0.22">10</text>
<text transform="translate(102.10,352.25) scale(0.94,1)" font-size="31.0" text-anchor="middle" stroke="#fff" stroke-width="0.22">0</text>
<text transform="translate(165.02,352.25) scale(0.94,1)" font-size="31.0" text-anchor="middle" stroke="#fff" stroke-width="0.22">100</text>
<text transform="translate(227.94,352.25) scale(0.94,1)" font-size="31.0" text-anchor="middle" stroke="#fff" stroke-width="0.22">200</text>
<text transform="translate(290.86,352.25) scale(0.94,1)" font-size="31.0" text-anchor="middle" stroke="#fff" stroke-width="0.22">300</text>
<text transform="translate(353.78,352.25) scale(0.94,1)" font-size="31.0" text-anchor="middle" stroke="#fff" stroke-width="0.22">400</text>
<text transform="translate(505.65,352.25) scale(0.94,1)" font-size="31.0" text-anchor="middle" stroke="#fff" stroke-width="0.22">0</text>
<text transform="translate(568.57,352.25) scale(0.94,1)" font-size="31.0" text-anchor="middle" stroke="#fff" stroke-width="0.22">100</text>
<text transform="translate(631.49,352.25) scale(0.94,1)" font-size="31.0" text-anchor="middle" stroke="#fff" stroke-width="0.22">200</text>
<text transform="translate(694.41,352.25) scale(0.94,1)" font-size="31.0" text-anchor="middle" stroke="#fff" stroke-width="0.22">300</text>
<text transform="translate(757.33,352.25) scale(0.94,1)" font-size="31.0" text-anchor="middle" stroke="#fff" stroke-width="0.22">400</text>
<text transform="translate(36.60,79.65) scale(0.94,1)" font-size="31.0" text-anchor="start" stroke="#fff" stroke-width="0.22">10</text>
<line x1="67.40" y1="63.75" x2="79.80" y2="63.75" stroke="#000" stroke-width="1.0" />
<text x="82.6" y="68.65" font-size="19.9" stroke="#fff" stroke-width="0.12">1</text>
<text transform="translate(36.60,125.56) scale(0.94,1)" font-size="31.0" text-anchor="start" stroke="#fff" stroke-width="0.22">10</text>
<line x1="67.40" y1="109.66" x2="79.80" y2="109.66" stroke="#000" stroke-width="1.0" />
<text x="82.6" y="114.56" font-size="19.9" stroke="#fff" stroke-width="0.12">2</text>
<text transform="translate(36.60,171.47) scale(0.94,1)" font-size="31.0" text-anchor="start" stroke="#fff" stroke-width="0.22">10</text>
<line x1="67.40" y1="155.57" x2="79.80" y2="155.57" stroke="#000" stroke-width="1.0" />
<text x="82.6" y="160.47" font-size="19.9" stroke="#fff" stroke-width="0.12">3</text>
<text transform="translate(36.60,217.38) scale(0.94,1)" font-size="31.0" text-anchor="start" stroke="#fff" stroke-width="0.22">10</text>
<line x1="67.40" y1="201.48" x2="79.80" y2="201.48" stroke="#000" stroke-width="1.0" />
<text x="82.6" y="206.38" font-size="19.9" stroke="#fff" stroke-width="0.12">4</text>
<text transform="translate(36.60,263.29) scale(0.94,1)" font-size="31.0" text-anchor="start" stroke="#fff" stroke-width="0.22">10</text>
<line x1="67.40" y1="247.39" x2="79.80" y2="247.39" stroke="#000" stroke-width="1.0" />
<text x="82.6" y="252.29" font-size="19.9" stroke="#fff" stroke-width="0.12">5</text>
<text transform="translate(36.60,309.20) scale(0.94,1)" font-size="31.0" text-anchor="start" stroke="#fff" stroke-width="0.22">10</text>
<line x1="67.40" y1="293.30" x2="79.80" y2="293.30" stroke="#000" stroke-width="1.0" />
<text x="82.6" y="298.20" font-size="19.9" stroke="#fff" stroke-width="0.12">6</text>
<text transform="translate(497.00,61.50) scale(0.94,1)" font-size="31.0" text-anchor="end" stroke="#fff" stroke-width="0.22">14</text>
<text transform="translate(497.00,100.44) scale(0.94,1)" font-size="31.0" text-anchor="end" stroke="#fff" stroke-width="0.22">12</text>
<text transform="translate(497.00,139.38) scale(0.94,1)" font-size="31.0" text-anchor="end" stroke="#fff" stroke-width="0.22">10</text>
<text transform="translate(497.00,178.32) scale(0.94,1)" font-size="31.0" text-anchor="end" stroke="#fff" stroke-width="0.22">8</text>
<text transform="translate(497.00,217.26) scale(0.94,1)" font-size="31.0" text-anchor="end" stroke="#fff" stroke-width="0.22">6</text>
<text transform="translate(497.00,256.20) scale(0.94,1)" font-size="31.0" text-anchor="end" stroke="#fff" stroke-width="0.22">4</text>
<text transform="translate(497.00,295.14) scale(0.94,1)" font-size="31.0" text-anchor="end" stroke="#fff" stroke-width="0.22">2</text>
<text x="259.7" y="388.6" font-size="29.5" text-anchor="middle">Iteration Number</text>
<text x="662.8" y="388.6" font-size="29.5" text-anchor="middle">Iteration Number</text>
<text transform="translate(451.0,166.6) rotate(-90)" font-size="30.2" text-anchor="middle">Cost Value</text>
<text transform="translate(23.1,166.5) rotate(-90)" font-size="28.4" text-anchor="middle" stroke="#fff" stroke-width="0.3">ϵ</text>
</svg>
</body></html>
